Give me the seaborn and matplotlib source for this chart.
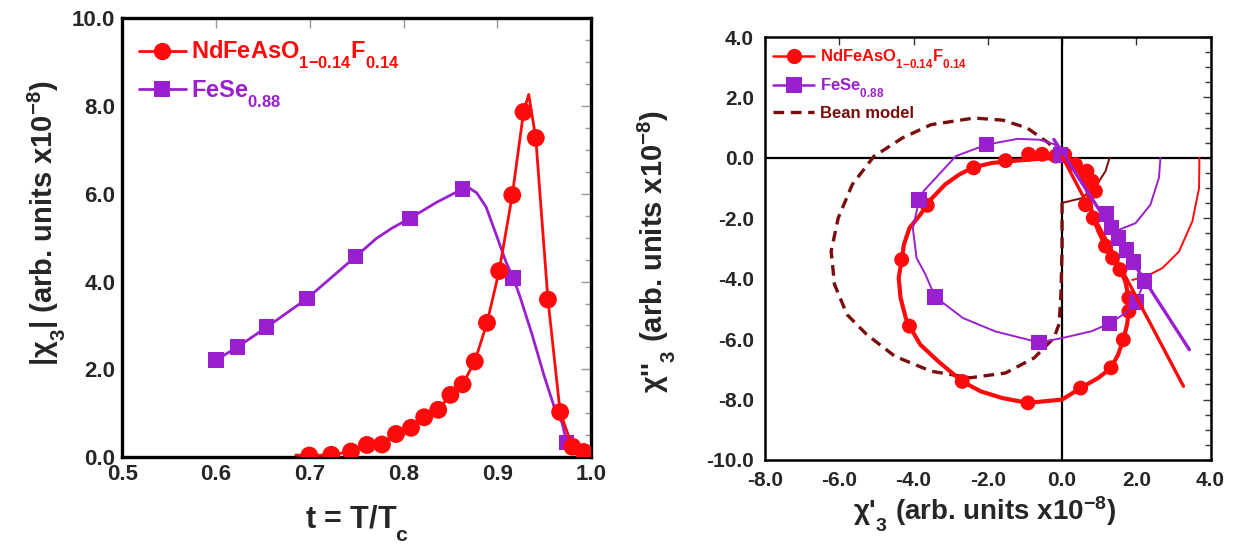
import matplotlib
matplotlib.use('Agg')
import matplotlib.pyplot as plt
import matplotlib._mathtext as _mt
import seaborn as sns
from matplotlib.lines import Line2D
from matplotlib.ticker import MultipleLocator, FormatStrFormatter

sns.set_theme(style='white')
plt.rcParams['font.family'] = ['Liberation Sans', 'DejaVu Sans']
plt.rcParams['mathtext.fontset'] = 'custom'
plt.rcParams['mathtext.rm'] = 'Liberation Sans'
plt.rcParams['mathtext.it'] = 'Liberation Sans:italic'
plt.rcParams['mathtext.bf'] = 'Liberation Sans:bold'
# subscripts in the reference drop well below the baseline
_mt.FontConstantsBase.sub1 = 0.8

RED = '#FF0A0A'
PURPLE = '#9A20CF'
BEAN = '#7A0C0C'

# ---------------- left panel data: |chi3| vs t ----------------
fese_t = [0.600, 0.623, 0.654, 0.697, 0.749, 0.807, 0.863, 0.917, 0.974]
fese_chi3 = [2.21, 2.51, 2.96, 3.61, 4.57, 5.44, 6.11, 4.08, 0.34]
fese_line_t = [0.600, 0.623, 0.654, 0.697, 0.749, 0.771, 0.788, 0.807, 0.835, 0.863,
               0.870, 0.878, 0.888, 0.900, 0.909, 0.917, 0.924, 0.937, 0.950, 0.962, 0.969, 0.974]
fese_line_chi3 = [2.21, 2.51, 2.96, 3.61, 4.57, 4.98, 5.22, 5.44, 5.80, 6.11,
                  6.13, 6.02, 5.70, 5.00, 4.46, 4.08, 3.67, 2.80, 1.85, 1.06, 0.79, 0.34]

nd_t = [0.6995, 0.723, 0.744, 0.761, 0.777, 0.792, 0.808, 0.822, 0.837, 0.850, 0.863,
        0.876, 0.889, 0.902, 0.916, 0.928, 0.941, 0.954, 0.967, 0.980, 0.992]
nd_chi3 = [0.04, 0.055, 0.13, 0.28, 0.29, 0.53, 0.67, 0.91, 1.08, 1.42, 1.66,
           2.18, 3.06, 4.24, 5.97, 7.86, 7.27, 3.59, 1.03, 0.24, 0.12]
nd_line_t = [0.685, 0.6995, 0.723, 0.744, 0.761, 0.777, 0.792, 0.808, 0.822, 0.837, 0.850,
             0.863, 0.876, 0.889, 0.902, 0.916, 0.928, 0.9335, 0.941, 0.954, 0.967, 0.980,
             0.992, 0.997]
nd_line_chi3 = [0.05, 0.04, 0.055, 0.13, 0.28, 0.29, 0.53, 0.67, 0.91, 1.08, 1.42,
                1.66, 2.18, 3.06, 4.24, 5.97, 7.86, 8.26, 7.27, 3.59, 1.03, 0.24,
                0.12, 0.08]

# ---------------- right panel data: chi''3 vs chi'3 ----------------
nd_loop_x = [0.0, -0.46, -0.94, -1.42, -1.90, -2.38, -2.77, -3.15, -3.54, -3.82, -4.11,
             -4.26, -4.32, -4.40, -4.35, -4.21, -4.11, -3.82, -3.34, -2.69, -2.19, -1.61,
             -0.92, 0.0, 0.50, 0.98, 1.32, 1.51, 1.65, 1.75, 1.80, 1.80, 1.70, 1.56, 1.36,
             1.17, 0.98, 0.84, 0.74, 0.64, 0.45, 0.21, 0.0]
nd_loop_y = [0.0, -0.02, -0.06, -0.11, -0.17, -0.31, -0.55, -0.88, -1.38, -1.88, -2.32,
             -2.87, -3.37, -3.97, -4.64, -5.30, -5.57, -6.18, -6.73, -7.40, -7.73, -7.95,
             -8.11, -8.00, -7.62, -7.28, -6.95, -6.51, -6.02, -5.52, -5.08, -4.64, -4.08,
             -3.70, -3.31, -2.92, -2.43, -1.99, -1.43, -0.88, -0.44, -0.11, 0.0]
nd_pts_x = [0.07, -0.17, -0.54, -0.90, -1.52, -2.38, -3.63, -4.32, -4.11, -2.69, -0.92,
            0.50, 1.32, 1.65, 1.80, 1.80, 1.56, 1.36, 1.17, 0.84, 0.63, 0.90, 0.81, 0.67, 0.36]
nd_pts_y = [0.11, 0.06, 0.12, 0.12, -0.09, -0.33, -1.57, -3.37, -5.57, -7.40, -8.11,
            -7.62, -6.95, -6.02, -5.08, -4.64, -3.70, -3.31, -2.92, -1.99, -1.55, -1.10,
            -0.77, -0.44, -0.22]
nd_diag_x = [0.0, 3.27]
nd_diag_y = [0.05, -7.56]
nd_arc_x = [3.70, 3.69, 3.51, 3.15, 2.70, 2.25, 1.89]
nd_arc_y = [0.0, -1.00, -2.10, -3.10, -3.65, -3.93, -4.04]

fese_loop_x = [-0.04, -0.20, -0.60, -1.20, -2.03, -2.86, -3.73, -3.85, -4.02, -3.92, -3.68,
               -3.42, -2.67, -1.81, -0.62, 0.02, 0.79, 1.28, 1.75, 2.00, 2.22]
fese_loop_y = [0.09, 0.45, 0.60, 0.63, 0.44, 0.06, -1.10, -1.40, -2.32, -3.31, -3.86,
               -4.60, -5.30, -5.74, -6.11, -5.96, -5.74, -5.48, -5.10, -4.77, -4.08]
fese_pts_x = [-0.04, -2.03, -3.85, -3.42, -0.62, 1.28, 2.00, 2.22, 1.93, 1.73, 1.52, 1.33, 1.20]
fese_pts_y = [0.09, 0.44, -1.40, -4.60, -6.11, -5.48, -4.77, -4.08, -3.45, -3.05, -2.65, -2.30, -1.85]
fese_diag_x = [-0.22, 3.43]
fese_diag_y = [0.61, -6.35]
fese_arc_x = [2.65, 2.61, 2.38, 1.98, 1.53]
fese_arc_y = [0.0, -0.66, -1.55, -2.16, -2.38]

bean_x = [0.0, 0.0, -0.03, -0.08, -0.22, -0.75, -1.52, -2.48, -3.53, -4.50, -5.26, -5.79,
          -6.13, -6.22, -6.03, -5.65, -5.07, -4.30, -3.53, -2.37, -1.60, -0.94, -0.37, 0.0]
bean_y = [-1.49, -3.0, -4.5, -5.5, -5.96, -6.62, -7.12, -7.28, -7.06, -6.57, -5.85, -5.19,
          -4.19, -3.09, -1.99, -0.88, 0.05, 0.66, 1.10, 1.32, 1.25, 0.99, 0.50, 0.0]
bean_arc_x = [0.0, 0.54, 0.94, 1.17, 1.28]
bean_arc_y = [-1.49, -1.33, -0.88, -0.44, 0.0]

label_nd = r'NdFeAsO$_{\mathbf{1{-}0.14}}$F$_{\mathbf{0.14}}$'
label_fese = r'FeSe$_{\mathbf{0.88}}$'
label_bean = 'Bean model'

fig = plt.figure(figsize=(12.34, 5.45), dpi=100)
fig.patch.set_facecolor('white')

# ================= left panel =================
axL = fig.add_axes([0.099, 0.161, 0.380, 0.806])
sns.lineplot(x=fese_line_t, y=fese_line_chi3, ax=axL, sort=False, estimator=None,
             color=PURPLE, linewidth=2.0, zorder=2)
sns.scatterplot(x=fese_t, y=fese_chi3, ax=axL, marker='s', s=125, color=PURPLE,
                edgecolor='none', zorder=3, legend=False)
sns.lineplot(x=nd_line_t, y=nd_line_chi3, ax=axL, sort=False, estimator=None,
             color=RED, linewidth=2.0, zorder=4)
sns.scatterplot(x=nd_t, y=nd_chi3, ax=axL, marker='o', s=165, color=RED,
                edgecolor='none', zorder=5, legend=False)
axL.set_xlim(0.5, 1.0)
axL.set_ylim(0.0, 10.0)
axL.xaxis.set_major_locator(MultipleLocator(0.1))
axL.yaxis.set_major_locator(MultipleLocator(2.0))
axL.yaxis.set_minor_locator(MultipleLocator(0.5))
axL.xaxis.set_major_formatter(FormatStrFormatter('%.1f'))
axL.yaxis.set_major_formatter(FormatStrFormatter('%.1f'))
axL.tick_params(which='both', direction='in', top=True, right=True, color='#999999',
                width=1.0)
axL.tick_params(which='major', length=7, labelsize=16, pad=5)
axL.tick_params(which='minor', length=4)
for lab in axL.get_xticklabels() + axL.get_yticklabels():
    lab.set_fontweight('bold')
for sp in axL.spines.values():
    sp.set_linewidth(2.4)
    sp.set_color('black')
axL.set_xlabel(r't = T/T$_{\mathbf{c}}$', fontsize=22, fontweight='bold')
axL.set_ylabel(r'|χ$_{\mathbf{3}}$| (arb. units x10$^{\mathbf{-8}}$)', fontsize=21,
               fontweight='bold')
axL.xaxis.set_label_coords(0.5, -0.106)
axL.yaxis.set_label_coords(-0.118, 0.533)

hL = [Line2D([], [], color=RED, lw=2.0, marker='o', markersize=12.5, markeredgewidth=0),
      Line2D([], [], color=PURPLE, lw=2.0, marker='s', markersize=11, markeredgewidth=0)]
legL = axL.legend(hL, [label_nd, label_fese], loc='upper left',
                  bbox_to_anchor=(0.035, 0.952), frameon=False, borderaxespad=0,
                  borderpad=0, handlelength=2.0, handletextpad=0.2, labelspacing=0.3,
                  prop={'size': 17, 'weight': 'bold'})
for t, c in zip(legL.get_texts(), [RED, PURPLE]):
    t.set_color(c)

# ================= right panel =================
axR = fig.add_axes([0.620, 0.156, 0.361, 0.776])
axR.axhline(0, color='black', lw=1.6, zorder=1)
axR.axvline(0, color='black', lw=1.6, zorder=1)
sns.lineplot(x=bean_x, y=bean_y, ax=axR, sort=False, estimator=None, color=BEAN,
             linewidth=2.4, dashes=False, zorder=2).lines[-1].set_dashes((3.2, 2.0))
sns.lineplot(x=bean_arc_x, y=bean_arc_y, ax=axR, sort=False, estimator=None, color=BEAN,
             linewidth=1.4, zorder=2)
sns.lineplot(x=nd_loop_x, y=nd_loop_y, ax=axR, sort=False, estimator=None, color=RED,
             linewidth=3.0, zorder=3)
sns.scatterplot(x=nd_pts_x, y=nd_pts_y, ax=axR, marker='o', s=115, color=RED,
                edgecolor='none', zorder=4, legend=False)
sns.lineplot(x=nd_arc_x, y=nd_arc_y, ax=axR, sort=False, estimator=None, color=RED,
             linewidth=1.4, zorder=4)
sns.lineplot(x=fese_loop_x, y=fese_loop_y, ax=axR, sort=False, estimator=None,
             color=PURPLE, linewidth=1.4, zorder=5)
sns.lineplot(x=fese_arc_x, y=fese_arc_y, ax=axR, sort=False, estimator=None,
             color=PURPLE, linewidth=1.4, zorder=5)
sns.lineplot(x=fese_diag_x, y=fese_diag_y, ax=axR, sort=False, estimator=None,
             color=PURPLE, linewidth=2.4, zorder=5)
sns.scatterplot(x=fese_pts_x, y=fese_pts_y, ax=axR, marker='s', s=125, color=PURPLE,
                edgecolor='none', zorder=6, legend=False)
sns.lineplot(x=nd_diag_x, y=nd_diag_y, ax=axR, sort=False, estimator=None, color=RED,
             linewidth=2.4, zorder=7)
axR.set_xlim(-8.0, 4.0)
axR.set_ylim(-10.0, 4.0)
axR.xaxis.set_major_locator(MultipleLocator(2.0))
axR.yaxis.set_major_locator(MultipleLocator(2.0))
axR.yaxis.set_minor_locator(MultipleLocator(0.5))
axR.xaxis.set_major_formatter(FormatStrFormatter('%.1f'))
axR.yaxis.set_major_formatter(FormatStrFormatter('%.1f'))
axR.tick_params(which='both', direction='in', top=True, right=True, color='#333333',
                width=1.0)
axR.tick_params(which='major', length=6, labelsize=15, pad=8)
axR.tick_params(which='minor', length=4)
for lab in axR.get_xticklabels() + axR.get_yticklabels():
    lab.set_fontweight('bold')
for sp in axR.spines.values():
    sp.set_linewidth(1.8)
    sp.set_color('black')
axR.set_xlabel(r"χ'$_{\mathbf{3}}$ (arb. units x10$^{\mathbf{-8}}$)", fontsize=20,
               fontweight='bold')
axR.set_ylabel(r"χ''$_{\mathbf{3}}$ (arb. units x10$^{\mathbf{-8}}$)", fontsize=21,
               fontweight='bold')
axR.xaxis.set_label_coords(0.493, -0.082)
axR.yaxis.set_label_coords(-0.197, 0.494)

hR = [Line2D([], [], color=RED, lw=1.8, marker='o', markersize=11, markeredgewidth=0),
      Line2D([], [], color=PURPLE, lw=1.8, marker='s', markersize=11, markeredgewidth=0),
      Line2D([], [], color=BEAN, lw=2.4, dashes=(3.2, 2.0))]
legR = axR.legend(hR, [label_nd, label_fese, label_bean], loc='upper left',
                  bbox_to_anchor=(0.018, 0.975), frameon=False, borderaxespad=0,
                  borderpad=0, handlelength=2.45, handletextpad=0.35, labelspacing=0.35,
                  prop={'size': 12, 'weight': 'bold'})
for t, c in zip(legR.get_texts(), [RED, PURPLE, BEAN]):
    t.set_color(c)

fig.savefig('out.png', dpi=100, facecolor='white')
